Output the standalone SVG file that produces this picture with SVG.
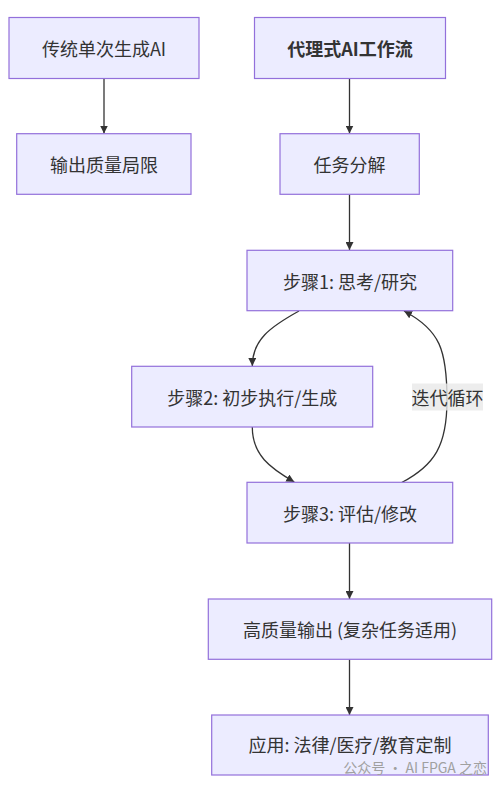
<svg xmlns="http://www.w3.org/2000/svg" width="504" height="788" viewBox="0 0 504 788">
<style>
.node rect{fill:#ECECFF;stroke:#9370DB;stroke-width:1.2}
.node text{font-family:"Noto Sans CJK SC","Noto Sans",sans-serif;font-size:18px;fill:#333;text-anchor:middle;dominant-baseline:central}
.edge{fill:none;stroke:#333;stroke-width:1.3}
.lbl{font-family:"Noto Sans CJK SC","Noto Sans",sans-serif;font-size:18px;fill:#333;text-anchor:middle;dominant-baseline:central}
.wm{font-family:"Noto Sans CJK SC","Noto Sans",sans-serif;font-size:14px;fill:#a0a0a0;text-anchor:end;dominant-baseline:central}
</style>
<defs>
<marker id="arr" viewBox="0 0 10 10" refX="10" refY="5" markerWidth="8" markerHeight="8" markerUnits="userSpaceOnUse" orient="auto">
<path d="M0,0 L10,5 L0,10 z" fill="#333"/>
</marker>
</defs>
<rect width="504" height="788" fill="#fff"/>
<g id="connectors">
<path class="edge" d="M104,78.5 L104,133.5" marker-end="url(#arr)"/>
<path class="edge" d="M349.5,78.5 L349.5,133.5" marker-end="url(#arr)"/>
<path class="edge" d="M349.5,194.5 L349.5,250" marker-end="url(#arr)"/>
<path class="edge" d="M299,311 C270,327 252.3,340 252.3,366" marker-end="url(#arr)"/>
<path class="edge" d="M252.3,427 C252.3,455 270,468 294.3,482" marker-end="url(#arr)"/>
<path class="edge" d="M401.7,482.5 C435,465 447,445 447,400 C447,350 440,330 404,311" marker-end="url(#arr)"/>
<path class="edge" d="M349.5,543 L349.5,599" marker-end="url(#arr)"/>
<path class="edge" d="M349.5,659.5 L349.5,715" marker-end="url(#arr)"/>
<rect x="412" y="383.5" width="71" height="27" fill="#e8e8e8" fill-opacity="0.8"/>
<text class="lbl" x="447.5" y="397">迭代循环</text>
</g>
<g id="n1" class="node"><rect x="9" y="17.5" width="190" height="61"/><text x="104" y="48">传统单次生成AI</text></g>
<g id="n2" class="node"><rect x="254.5" y="17.5" width="191" height="61"/><text x="350" y="48" font-weight="bold">代理式AI工作流</text></g>
<g id="n3" class="node"><rect x="16.7" y="133.7" width="174.3" height="60.6"/><text x="104" y="164">输出质量局限</text></g>
<g id="n4" class="node"><rect x="280" y="133.7" width="139.3" height="60.6"/><text x="349.5" y="164">任务分解</text></g>
<g id="s1" class="node"><rect x="247" y="250.3" width="205.7" height="60.4"/><text x="350" y="280.5">步骤1: 思考/研究</text></g>
<g id="s2" class="node"><rect x="131.7" y="366.3" width="241" height="60.7"/><text x="252.2" y="396.7">步骤2: 初步执行/生成</text></g>
<g id="s3" class="node"><rect x="247" y="482.3" width="205.7" height="60.7"/><text x="350" y="512.7">步骤3: 评估/修改</text></g>
<g id="n5" class="node"><rect x="208.3" y="599" width="283.4" height="60.3"/><text x="350" y="629">高质量输出 (复杂任务适用)</text></g>
<g id="n6" class="node"><rect x="211.7" y="715" width="276.6" height="60"/><text x="350" y="744">应用: 法律/医疗/教育定制</text></g>
<text class="wm" x="487" y="767">公众号 · AI FPGA 之恋</text>
</svg>
